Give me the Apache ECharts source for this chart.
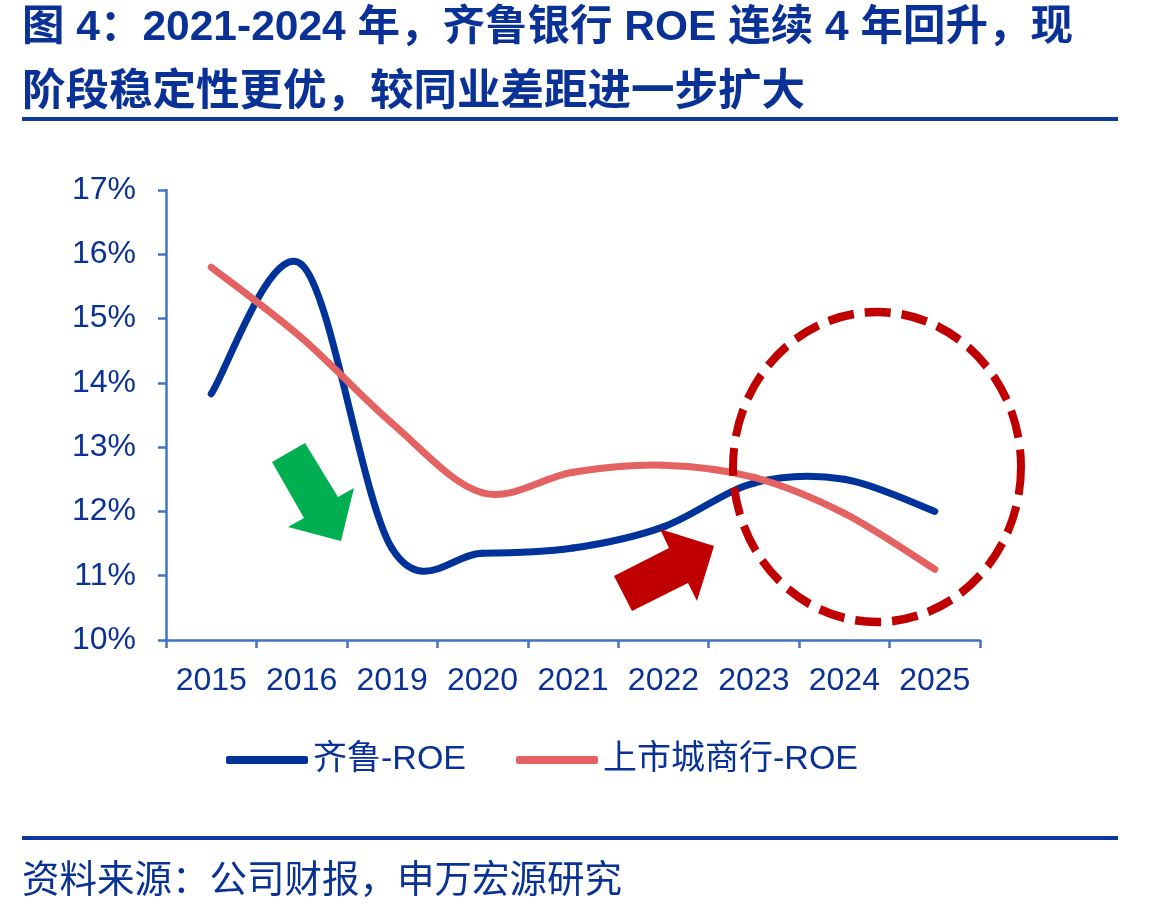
<!DOCTYPE html>
<html>
<head>
<meta charset="utf-8">
<script src="https://cdn.jsdelivr.net/npm/echarts@6/dist/echarts.min.js"></script>
<style>
html,body{margin:0;padding:0;background:#fff;}
#chart{width:1169px;height:914px;}
</style>
</head>
<body>
<div id="chart"></div>
<script>
// ---- data ----
const categories = ['2015','2016','2019','2020','2021','2022','2023','2024','2025'];
const qiluROE = [13.83, 15.84, 11.42, 11.35, 11.43, 11.76, 12.44, 12.50, 12.00];
const cityBankROE = [15.80, 14.70, 13.37, 12.29, 12.61, 12.72, 12.53, 11.97, 11.10];
const seriesNames = ['齐鲁-ROE', '上市城商行-ROE'];
const titleLines = ['图 4：2021-2024 年，齐鲁银行 ROE 连续 4 年回升，现', '阶段稳定性更优，较同业差距进一步扩大'];
const sourceText = '资料来源：公司财报，申万宏源研究';

const DARK = '#0a3296';
const AXIS = '#4472c4';
const FONT = '"Liberation Sans", Arial, "Noto Sans CJK SC", sans-serif';
const BLUE = '#003399';
const RED = '#e46262';

// Smoothed (Catmull-Rom style) line drawn through the axis scales
function smoothRenderer(values, color) {
  return function (params, api) {
    const i = params.dataIndex;
    if (i >= values.length - 1) return null;
    const n = values.length;
    const P = k => {
      const kk = Math.max(0, Math.min(n - 1, k));
      return api.coord([kk, values[kk]]);
    };
    const p0 = P(i - 1), p1 = P(i), p2 = P(i + 1), p3 = P(i + 2);
    return {
      type: 'bezierCurve',
      shape: {
        x1: p1[0], y1: p1[1], x2: p2[0], y2: p2[1],
        cpx1: p1[0] + (p2[0] - p0[0]) / 6, cpy1: p1[1] + (p2[1] - p0[1]) / 6,
        cpx2: p2[0] - (p3[0] - p1[0]) / 6, cpy2: p2[1] - (p3[1] - p1[1]) / 6
      },
      style: {stroke: color, lineWidth: 7, fill: null, lineCap: 'round', lineJoin: 'round'}
    };
  };
}

const chart = echarts.init(document.getElementById('chart'));
chart.setOption({
  animation: false,
  backgroundColor: '#fff',
  grid: {left: 166, right: 189, top: 190, bottom: 274, containLabel: false},
  xAxis: {
    type: 'category',
    data: categories,
    boundaryGap: true,
    axisLine: {lineStyle: {color: AXIS, width: 2.5}},
    axisTick: {show: true, length: 8, interval: 0, lineStyle: {color: AXIS, width: 2.5}},
    axisLabel: {color: DARK, fontSize: 32, fontFamily: FONT, margin: 25, interval: 0}
  },
  yAxis: {
    type: 'value',
    min: 10, max: 17, interval: 1,
    axisLine: {show: true, lineStyle: {color: AXIS, width: 2.5}},
    axisTick: {show: true, length: 8, lineStyle: {color: AXIS, width: 2.5}},
    splitLine: {show: false},
    axisLabel: {color: DARK, fontSize: 32, fontFamily: FONT, margin: 30, formatter: '{value}%'}
  },
  legend: {
    left: 221, top: 738,
    icon: 'roundRect',
    itemWidth: 82, itemHeight: 8, itemGap: 50,
    textStyle: {color: DARK, fontSize: 34, fontFamily: FONT},
    data: seriesNames
  },
  series: [
    {
      name: seriesNames[0], type: 'custom', z: 2,
      data: qiluROE.map((v, i) => [i, v]),
      encode: {x: 0, y: 1},
      itemStyle: {color: BLUE},
      renderItem: smoothRenderer(qiluROE, BLUE)
    },
    {
      name: seriesNames[1], type: 'custom', z: 3,
      data: cityBankROE.map((v, i) => [i, v]),
      encode: {x: 0, y: 1},
      itemStyle: {color: RED},
      renderItem: smoothRenderer(cityBankROE, RED)
    }
  ],
  graphic: [
    {type: 'text', left: 22, top: 7, style: {text: titleLines[0], fill: DARK, font: 'bold 42.5px ' + FONT}},
    {type: 'text', left: 22, top: 71, style: {text: titleLines[1], fill: DARK, font: 'bold 43.5px ' + FONT}},
    {type: 'rect', shape: {x: 22, y: 117, width: 1096, height: 4}, style: {fill: '#0a3a9c'}},
    {type: 'rect', shape: {x: 22, y: 836, width: 1096, height: 4}, style: {fill: '#0a3a9c'}},
    {type: 'text', left: 22, top: 863, style: {text: sourceText, fill: DARK, font: '37.5px ' + FONT}},
    // green arrow
    {type: 'polygon', z: 10, shape: {points: [[272,462],[305,443],[338,497],[354,488],[341,541],[288,527],[304,518]]}, style: {fill: '#00b050'}},
    // red arrow
    {type: 'polygon', z: 10, shape: {points: [[614,576],[669,548],[660,529],[714,546],[697,601],[688,583],[632,611]]}, style: {fill: '#c00000'}},
    // dashed circle
    {type: 'circle', z: 10, x: 877, y: 467, scaleY: 155/144, shape: {cx: 0, cy: 0, r: 144},
     style: {fill: 'none', stroke: '#c00000', lineWidth: 8, lineDash: [26, 11]}}
  ]
});
</script>
</body>
</html>
